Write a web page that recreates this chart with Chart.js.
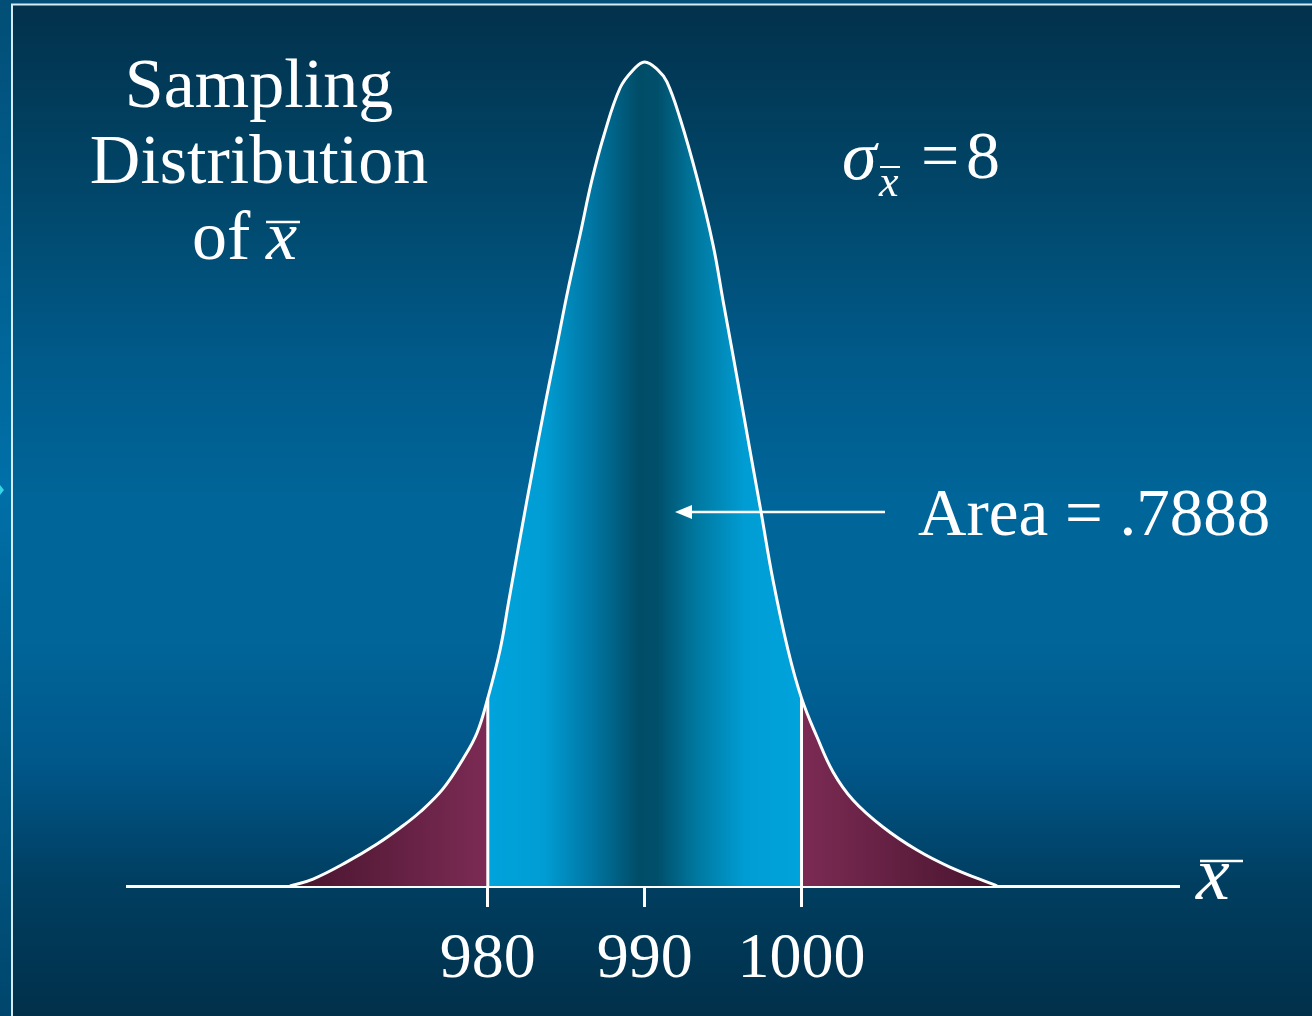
<!DOCTYPE html>
<html>
<head>
<meta charset="utf-8">
<script src="https://cdn.jsdelivr.net/npm/chart.js@4.4.1/dist/chart.umd.min.js"></script>
<style>
  html, body { margin: 0; padding: 0; background: #01324c; }
  #wrap { position: relative; width: 1312px; height: 1016px; }
</style>
</head>
<body>
<div id="wrap"><canvas id="chart" width="1312" height="1016"></canvas></div>
<script>
// axis range and labelled ticks of the sample mean
const xMin = 957;
const xMax = 1024;
const tickValues = [980, 990, 1000];
const lowerBound = 980;
const upperBound = 1000;
const sigmaValue = '8';
const areaValue = '.7888';

// traced bell curve: x̄ values and curve height
const curveX = [967.39, 968.86, 971.02, 972.94, 974.40, 975.68, 977.14, 978.42, 979.31, 980,
  980.78, 981.35, 982.50, 983.71, 984.35, 985.11, 985.88, 986.64, 987.41, 988.43, 989.26, 990,
  990.85, 991.42, 992.25, 993.34, 994.36, 994.99, 995.63, 996.20, 996.71, 997.42, 998.18, 999.14, 1000,
  1000.99, 1002.01, 1003.28, 1005.19, 1007.36, 1009.46, 1012.46];
const curveY = [0, 0.00042, 0.00146, 0.00255, 0.00352, 0.00449, 0.00589, 0.00771, 0.00928, 0.0114,
  0.01432, 0.01735, 0.02342, 0.02949, 0.03252, 0.03616, 0.0395, 0.04284, 0.04557, 0.04842, 0.04951, 0.05,
  0.04951, 0.04879, 0.0466, 0.04296, 0.0389, 0.03556, 0.03222, 0.02919, 0.02646, 0.02269, 0.01857, 0.01432, 0.0114,
  0.00904, 0.00692, 0.00522, 0.00358, 0.00218, 0.00115, 0];

const points = curveX.map((x, i) => ({ x: x, y: curveY[i] }));
const heightAt = (v) => curveY[curveX.indexOf(v)];

// tails in maroon, central region in cyan with a dark middle band
function areaGradient(chart) {
  const { ctx, chartArea, scales } = chart;
  if (!chartArea) return null;
  const first = curveX[0];
  const last = curveX[curveX.length - 1];
  const x0 = scales.x.getPixelForValue(first);
  const x1 = scales.x.getPixelForValue(last);
  const f = (v) => (scales.x.getPixelForValue(v) - x0) / (x1 - x0);
  const a = f(lowerBound);
  const b = f(upperBound);
  const w = b - a;
  const g = ctx.createLinearGradient(x0, 0, x1, 0);
  g.addColorStop(0, '#47142d');
  g.addColorStop(a, '#7c2b54');
  g.addColorStop(a + 0.0001, '#00a3dc');
  g.addColorStop(a + w * 0.18, '#009dd4');
  g.addColorStop(a + w * 0.34, '#0074a0');
  g.addColorStop(a + w * 0.48, '#004d68');
  g.addColorStop(a + w * 0.54, '#004f6a');
  g.addColorStop(a + w * 0.66, '#00779e');
  g.addColorStop(a + w * 0.82, '#009dd4');
  g.addColorStop(b - 0.0001, '#00a3dc');
  g.addColorStop(b, '#7c2b54');
  g.addColorStop(1, '#47142d');
  return g;
}

const backdrop = {
  id: 'backdrop',
  beforeDraw(chart) {
    const { ctx, width, height } = chart;
    ctx.save();
    let g = ctx.createLinearGradient(0, 0, 0, height);
    g.addColorStop(0, '#024e76');
    g.addColorStop(0.48, '#0070a8');
    g.addColorStop(1, '#00466c');
    ctx.fillStyle = g;
    ctx.fillRect(0, 0, width, height);

    g = ctx.createLinearGradient(0, 5, 0, height);
    g.addColorStop(0, '#02314b');
    g.addColorStop(0.2, '#01486c');
    g.addColorStop(0.35, '#005a8a');
    g.addColorStop(0.5, '#00669a');
    g.addColorStop(0.62, '#00669a');
    g.addColorStop(0.75, '#00578a');
    g.addColorStop(0.87, '#003e60');
    g.addColorStop(1, '#01304a');
    ctx.fillStyle = g;
    ctx.fillRect(12, 5, width - 12, height - 5);

    ctx.strokeStyle = '#d6ecf4';
    ctx.lineWidth = 2;
    ctx.beginPath();
    ctx.moveTo(12, height);
    ctx.lineTo(12, 4.5);
    ctx.lineTo(width, 4.5);
    ctx.stroke();

    ctx.fillStyle = '#35d6e8';
    ctx.beginPath();
    ctx.moveTo(0, 485);
    ctx.lineTo(4, 490);
    ctx.lineTo(0, 495);
    ctx.fill();
    ctx.restore();
  }
};

function drawBarX(ctx, x0, x1, y, w) {
  ctx.lineWidth = w;
  ctx.beginPath();
  ctx.moveTo(x0, y);
  ctx.lineTo(x1, y);
  ctx.stroke();
}

const annotations = {
  id: 'annotations',
  afterDraw(chart) {
    const { ctx } = chart;
    ctx.save();
    ctx.fillStyle = '#fff';
    ctx.strokeStyle = '#fff';
    ctx.textBaseline = 'alphabetic';

    // title block
    ctx.font = '70px "Liberation Serif"';
    ctx.textAlign = 'center';
    ctx.fillText('Sampling', 259, 107);
    ctx.fillText('Distribution', 259, 183);
    ctx.textAlign = 'left';
    ctx.fillText('of', 192, 259);
    ctx.font = 'italic 70px "Liberation Serif"';
    ctx.fillText('x', 266, 259);
    drawBarX(ctx, 266, 300, 222, 2.5);

    // standard error
    ctx.font = 'italic 70px "Liberation Serif"';
    ctx.fillText('σ', 842, 179);
    ctx.font = 'italic 44px "Liberation Serif"';
    ctx.fillText('x', 879, 196);
    drawBarX(ctx, 880, 900, 167, 2);
    ctx.font = '68px "Liberation Serif"';
    ctx.fillText('=', 921, 178);
    ctx.fillText(sigmaValue, 966, 178);

    // area label with arrow
    ctx.font = '67px "Liberation Serif"';
    ctx.fillText('Area = ' + areaValue, 918, 535);
    drawBarX(ctx, 885, 690, 512, 2.5);
    ctx.beginPath();
    ctx.moveTo(675, 512);
    ctx.lineTo(692, 505);
    ctx.lineTo(692, 519);
    ctx.closePath();
    ctx.fill();

    // axis symbol
    ctx.font = 'italic 76px "Liberation Serif"';
    ctx.fillText('x', 1196, 899);
    drawBarX(ctx, 1200, 1243, 861, 2.5);
    ctx.restore();
  }
};

const ctx = document.getElementById('chart').getContext('2d');
new Chart(ctx, {
  type: 'line',
  data: {
    datasets: [
      {
        data: points,
        borderColor: '#fff',
        borderWidth: 3,
        fill: false,
        pointRadius: 0,
        tension: 0.4,
        clip: false,
        order: 0
      },
      {
        data: [{ x: lowerBound, y: 0 }, { x: lowerBound, y: heightAt(lowerBound) }],
        borderColor: '#fff',
        borderWidth: 3,
        pointRadius: 0,
        fill: false,
        order: 1
      },
      {
        data: [{ x: upperBound, y: 0 }, { x: upperBound, y: heightAt(upperBound) }],
        borderColor: '#fff',
        borderWidth: 3,
        pointRadius: 0,
        fill: false,
        order: 1
      },
      {
        data: points,
        borderWidth: 0,
        pointRadius: 0,
        tension: 0.4,
        fill: 'origin',
        backgroundColor: (c) => areaGradient(c.chart),
        order: 2
      }
    ]
  },
  options: {
    responsive: false,
    animation: false,
    events: [],
    layout: { padding: { left: 127, right: 134, top: 29, bottom: 0 } },
    plugins: { legend: { display: false }, tooltip: { enabled: false } },
    scales: {
      x: {
        type: 'linear',
        min: xMin,
        max: xMax,
        afterBuildTicks: (scale) => { scale.ticks = tickValues.map(v => ({ value: v })); },
        afterFit: (scale) => { scale.height = 130; },
        border: { display: true, color: '#fff', width: 3 },
        grid: { drawOnChartArea: false, drawTicks: true, tickLength: 21, color: '#fff', lineWidth: 3 },
        ticks: {
          color: '#fff',
          font: { family: '"Liberation Serif"', size: 64 },
          padding: 15,
          autoSkip: false,
          maxRotation: 0,
          callback: (v) => String(v)
        }
      },
      y: {
        display: false,
        min: 0,
        max: 0.052
      }
    }
  },
  plugins: [backdrop, annotations]
});
</script>
</body>
</html>
